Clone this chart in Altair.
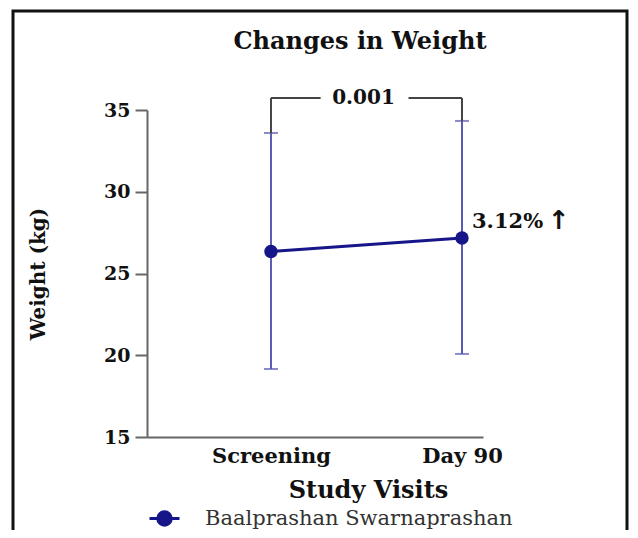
import altair as alt
import pandas as pd

visits = ["Screening", "Day 90"]
visit_pos = [0, 1]
means = [26.35, 27.17]
upper = [33.59, 34.33]
lower = [19.16, 20.08]
series = "Baalprashan Swarnaprashan"
p_value = "0.001"
pct_change = "3.12%"
arrow = "↑"
title_text = "Changes in Weight"

bracket_level = 35.73
gap_left, gap_right = 0.26, 0.72

SERIF = "DejaVu Serif"
NAVY = "#16168a"
ERR = "#5a5ab4"
GRAY = "#444444"

df = pd.DataFrame({
    "pos": visit_pos,
    "visit": visits,
    "mean": means,
    "upper": upper,
    "lower": lower,
    "series": [series] * 2,
})

xscale = alt.Scale(domain=[-0.649, 1.11], nice=False, zero=False)
yscale = alt.Scale(domain=[15, 35], nice=False, zero=False)

label_expr = "datum.value == 0 ? 'Screening' : (datum.value == 1 ? 'Day 90' : '')"

x_enc = alt.X("pos:Q", scale=xscale, axis=alt.Axis(
    values=[0, 1], labelExpr=label_expr, title="Study Visits", ticks=False, grid=False,
    labelFont=SERIF, labelFontWeight="bold", labelFontSize=21, labelColor="#111",
    labelPadding=8, titleFont=SERIF, titleFontWeight="bold", titleFontSize=24,
    titleColor="#111", titleX=221, titleY=53, titleBaseline="middle",
    domainColor="#666", domainWidth=2, labelFlush=False))
y_enc = alt.Y("mean:Q", scale=yscale, axis=alt.Axis(
    values=[15, 20, 25, 30, 35], title="Weight (kg)", grid=False,
    tickSize=12, tickWidth=2, tickColor="#666", domainColor="#666", domainWidth=2,
    labelFont=SERIF, labelFontWeight="bold", labelFontSize=19, labelColor="#111",
    labelPadding=5, titleFont=SERIF, titleFontWeight="bold", titleFontSize=20,
    titleColor="#111", titleX=-109, titleBaseline="middle"))

base = alt.Chart(df)

err_rule = base.mark_rule(color=ERR, strokeWidth=2).encode(
    x=x_enc, y=alt.Y("lower:Q", scale=yscale), y2="upper:Q")
cap_top = base.mark_tick(orient="horizontal", color=ERR, size=14, thickness=2).encode(
    x=alt.X("pos:Q", scale=xscale), y=alt.Y("upper:Q", scale=yscale))
cap_bot = base.mark_tick(orient="horizontal", color=ERR, size=14, thickness=2).encode(
    x=alt.X("pos:Q", scale=xscale), y=alt.Y("lower:Q", scale=yscale))

legend_path = "M-1,0L1,0M-0.45,0A0.45,0.45,0,1,0,0.45,0A0.45,0.45,0,1,0,-0.45,0Z"
line = base.mark_line(strokeWidth=3).encode(
    x=alt.X("pos:Q", scale=xscale), y=y_enc,
    color=alt.Color("series:N", scale=alt.Scale(domain=[series], range=[NAVY]),
                    legend=alt.Legend(title=None, orient="none", legendX=1, legendY=392,
                                      symbolType=legend_path, symbolSize=900,
                                      symbolStrokeWidth=3, symbolFillColor=NAVY,
                                      labelFont=SERIF, labelFontSize=21, labelColor="#333",
                                      labelOffset=24, labelLimit=0, padding=0)))
points = base.mark_point(filled=True, size=180, opacity=1, color=NAVY).encode(
    x=alt.X("pos:Q", scale=xscale), y=alt.Y("mean:Q", scale=yscale))

bdf = pd.DataFrame({
    "x": [0, gap_right, 0, 1],
    "x2": [gap_left, 1, 0, 1],
    "y": [bracket_level, bracket_level, upper[0], upper[1]],
    "y2": [bracket_level, bracket_level, bracket_level, bracket_level],
})
bracket = alt.Chart(bdf).mark_rule(color=GRAY, strokeWidth=2).encode(
    x=alt.X("x:Q", scale=xscale), x2="x2:Q",
    y=alt.Y("y:Q", scale=yscale), y2="y2:Q")

ptext = alt.Chart(pd.DataFrame({"x": [0.5], "y": [bracket_level], "t": [p_value]})).mark_text(
    font=SERIF, fontWeight="bold", fontSize=20, color="#111", dx=-3, baseline="middle").encode(
    x=alt.X("x:Q", scale=xscale), y=alt.Y("y:Q", scale=yscale), text="t:N")

pct = alt.Chart(pd.DataFrame({"x": [1], "y": [28.15], "t": [pct_change]})).mark_text(
    font=SERIF, fontWeight="bold", fontSize=21, color="#111", dx=10, align="left",
    baseline="middle").encode(
    x=alt.X("x:Q", scale=xscale), y=alt.Y("y:Q", scale=yscale), text="t:N")

arr = alt.Chart(pd.DataFrame({"x": [1], "y": [28.2], "t": [arrow]})).mark_text(
    font="DejaVu Sans", fontWeight="bold", fontSize=26, color="#111", dx=86, align="left",
    baseline="middle").encode(
    x=alt.X("x:Q", scale=xscale), y=alt.Y("y:Q", scale=yscale), text="t:N")

title = alt.Chart(pd.DataFrame({"t": [title_text]})).mark_text(
    font=SERIF, fontWeight="bold", fontSize=24, color="#111", baseline="middle").encode(
    x=alt.value(213), y=alt.value(-68), text="t:N")

frame = alt.Chart(pd.DataFrame({"a": [0]})).mark_rect(
    fillOpacity=0, stroke="#111", strokeWidth=3).encode(
    x=alt.value(-134), x2=alt.value(480), y=alt.value(-99), y2=alt.value(450))

chart = alt.layer(frame, title, err_rule, cap_top, cap_bot, bracket, line, points, ptext, pct, arr).properties(
    width=336, height=327,
    background="white",
    autosize=alt.AutoSizeParams(type="none"),
    padding={"left": 139, "top": 102, "right": 147, "bottom": 93},
).configure_view(stroke=None)

chart.save("out.html", embed_options={"renderer": "svg", "actions": False})
